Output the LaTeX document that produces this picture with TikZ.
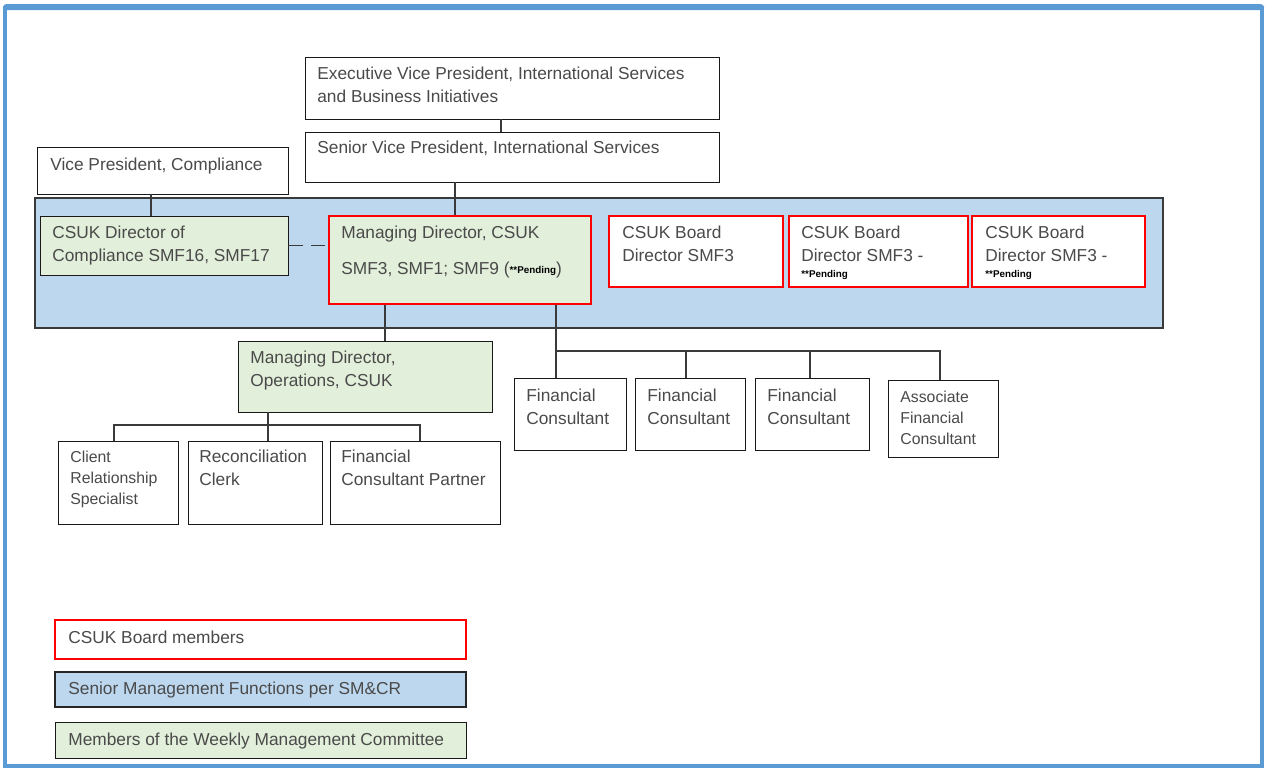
\documentclass[tikz,border=0pt]{standalone}
\usepackage{fontspec}
\setmainfont{Liberation Sans}
\usetikzlibrary{fit,calc}
\definecolor{frameblue}{HTML}{5B9BD5}
\definecolor{bandblue}{HTML}{BDD7EE}
\definecolor{leafgreen}{HTML}{E2EFDA}
\definecolor{txtgray}{HTML}{4A4A4A}
\definecolor{linegray}{HTML}{3A3A3A}
\begin{document}
\begin{tikzpicture}[x=0.02cm,y=-0.02cm,
  box/.style={draw=black!90, line width=0.5pt, inner sep=0pt, fill=white},
  gbox/.style={box, fill=leafgreen},
  rbox/.style={box, draw=red, line width=1.3pt},
  band/.style={draw=linegray, line width=0.6pt, inner sep=0pt, fill=bandblue},
  txt/.style={anchor=north west, inner sep=0pt, align=left, text=txtgray, font=\fontsize{9.85}{13}\selectfont},
  stxt/.style={txt, font=\fontsize{9}{12}\selectfont},
  pend/.style={anchor=north west, inner sep=0pt, text=black, font=\fontsize{5.6}{6}\selectfont\bfseries},
  conn/.style={draw=linegray, line width=0.6pt}]
\useasboundingbox (0,0) rectangle (1266,769);
% outer frame
\draw[frameblue, line width=2.3pt] (5,8) rectangle (1262,766);
\fill[frameblue, rounded corners=2pt] (3,4) rectangle (1264,10);
% band
\node[band, fit={(35,198) (1163,328)}] (band) {};
% boxes
\node[box, fit={(305,57) (719,119)}] (evp) {};
\node[box, fit={(305,132) (719,182)}] (svp) {};
\node[box, fit={(37,147) (288,194)}] (vp) {};
\node[gbox, fit={(40,216) (288,275)}] (dc) {};
\node[gbox, draw=red, line width=1.3pt, fit={(329,216) (591,304)}] (md) {};
\node[rbox, fit={(609,216) (783,287)}] (b1) {};
\node[rbox, fit={(789,216) (968,287)}] (b2) {};
\node[rbox, fit={(972,216) (1145,287)}] (b3) {};
\node[gbox, fit={(238,341) (492,412)}] (ops) {};
\node[box, fit={(58,441) (178,524)}] (crs) {};
\node[box, fit={(188,441) (322,524)}] (rc) {};
\node[box, fit={(330,441) (500,524)}] (fcp) {};
\node[box, fit={(514,378) (626,450)}] (fc1) {};
\node[box, fit={(635,378) (745,450)}] (fc2) {};
\node[box, fit={(755,378) (869,450)}] (fc3) {};
\node[box, fit={(888,380) (998,457)}] (afc) {};
% legend
\node[rbox, fit={(55,620) (466,659)}] (lg1) {};
\node[band, draw=black!85, fit={(55,672) (466,707)}] (lg2) {};
\node[gbox, fit={(55,722) (466,758)}] (lg3) {};
% connectors
\draw[conn] (501,0 |- evp.south) -- (501,0 |- svp.north);
\draw[conn] (151,0 |- vp.south) -- (151,0 |- dc.north);
\draw[conn] (455,0 |- svp.south) -- (455,0 |- md.north);
\draw[conn, dash pattern=on 8pt off 5pt] (dc.east) -- (md.west |- dc.east);
\draw[conn] (385,0 |- md.south) -- (385,0 |- ops.north);
\draw[conn] (268,0 |- ops.south) -- (268,0 |- rc.north);
\draw[conn] (114,0 |- crs.north) -- (114,425) -- (420,425) -- (420,0 |- fcp.north);
\draw[conn] (556,0 |- md.south) -- (556,0 |- fc1.north);
\draw[conn] (556,351) -- (940,351) -- (940,0 |- afc.north);
\draw[conn] (686,351) -- (686,0 |- fc2.north);
\draw[conn] (810,351) -- (810,0 |- fc3.north);
% texts
\node[txt] (tevp) at (317,67) {Executive Vice President, International Services\\and Business Initiatives};
\node[txt] (tsvp) at (317,141) {Senior Vice President, International Services};
\node[txt] (tvp) at (50,158) {Vice President, Compliance};
\node[txt] (tdc) at (52,226) {CSUK Director of\\Compliance SMF16, SMF17};
\node[txt] (tmd) at (341,226) {Managing Director, CSUK};
\node[txt] (tmd2) at (341,262) {SMF3, SMF1; SMF9 (\raisebox{0.15ex}{\textcolor{black}{\fontsize{5.6}{6}\selectfont\bfseries **Pending}})};
\node[txt] (tb1) at (622,226) {CSUK Board\\Director SMF3};
\node[txt] (tb2) at (801,226) {CSUK Board\\Director SMF3 -};
\node[pend] (pb2) at (801,270) {**Pending};
\node[txt] (tb3) at (985,226) {CSUK Board\\Director SMF3 -};
\node[pend] (pb3) at (985,270) {**Pending};
\node[txt] (tops) at (250,351) {Managing Director,\\Operations, CSUK};
\node[stxt] (tcrs) at (70,451) {Client\\Relationship\\Specialist};
\node[txt] (trc) at (199,450) {Reconciliation\\Clerk};
\node[txt] (tfcp) at (341,450) {Financial\\Consultant Partner};
\node[txt] (tfc1) at (526,389) {Financial\\Consultant};
\node[txt] (tfc2) at (647,389) {Financial\\Consultant};
\node[txt] (tfc3) at (767,389) {Financial\\Consultant};
\node[stxt] (tafc) at (900,391) {Associate\\Financial\\Consultant};
\node[txt] (tl1) at (68,631) {CSUK Board members};
\node[txt] (tl2) at (68,682) {Senior Management Functions per SM\&CR};
\node[txt] (tl3) at (68,733) {Members of the Weekly Management Committee};
\end{tikzpicture}
\end{document}
